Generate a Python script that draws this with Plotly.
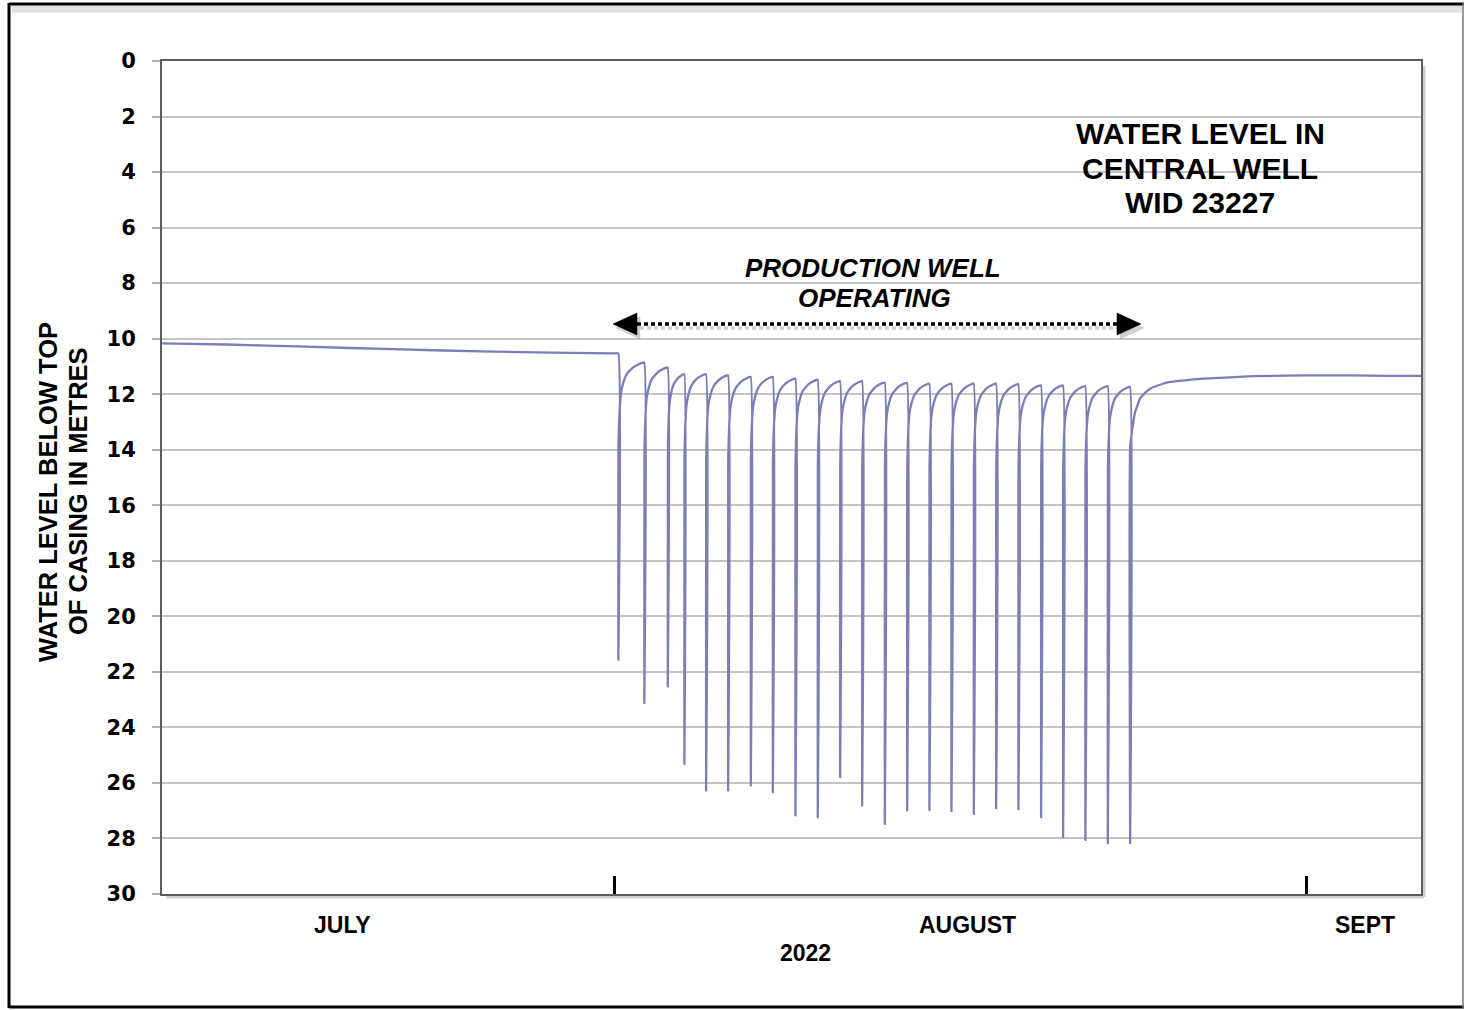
import plotly.graph_objects as go
from datetime import datetime, timedelta

# ---- water level record, metres below top of casing ----
# background record before the production well was switched on
pre_times = ["2022-07-11 18:40", "2022-07-14 16:00", "2022-07-18 06:00",
             "2022-07-22 02:40", "2022-07-26 14:00", "2022-07-31 23:00"]
pre_levels = [10.17, 10.21, 10.29, 10.38, 10.47, 10.53]

# start of each daily pumping event in the production well
pump_starts = ["2022-08-01 04:35", "2022-08-02 08:30", "2022-08-03 09:40",
               "2022-08-04 03:30", "2022-08-05 02:50", "2022-08-06 02:30",
               "2022-08-07 02:50", "2022-08-08 02:30", "2022-08-09 02:45",
               "2022-08-10 02:45", "2022-08-11 02:45", "2022-08-12 02:25",
               "2022-08-13 02:45", "2022-08-14 02:45", "2022-08-15 02:40",
               "2022-08-16 02:20", "2022-08-17 02:20", "2022-08-18 02:20",
               "2022-08-19 02:15", "2022-08-20 02:35", "2022-08-21 02:15",
               "2022-08-22 02:10", "2022-08-23 02:15", "2022-08-24 02:15"]
# level reached in the central well at the end of each event
drawdown_levels = [21.56, 23.12, 22.52, 25.31, 26.27, 26.27, 26.09, 26.33,
                   27.17, 27.23, 25.79, 26.81, 27.47, 26.99, 26.97, 27.01,
                   27.11, 26.91, 26.94, 27.23, 27.95, 28.05, 28.17, 28.17]
# level just before each event started
prepump_levels = [10.53, 10.86, 11.04, 11.28, 11.28, 11.32, 11.38, 11.38,
                  11.44, 11.48, 11.53, 11.53, 11.58, 11.59, 11.62, 11.62,
                  11.62, 11.62, 11.64, 11.68, 11.68, 11.71, 11.71, 11.74]

# recovery between events: share of the interval elapsed vs metres still to recover
recovery_share = [0.03, 0.06, 0.10, 0.18, 0.33, 0.56, 0.86]
recovery_residual = [2.20, 1.60, 1.13, 0.77, 0.41, 0.18, 0.03]
spike_return_residual = 3.0

# recovery after the last pumping event
post_times = ["2022-08-24 07:40", "2022-08-24 13:00", "2022-08-24 18:20",
              "2022-08-24 23:45", "2022-08-25 10:25", "2022-08-25 21:10",
              "2022-08-26 13:15", "2022-08-27 08:35", "2022-08-28 08:15",
              "2022-08-29 14:25", "2022-08-31 02:00", "2022-09-01 14:25",
              "2022-09-03 02:00", "2022-09-04 14:25", "2022-09-06 02:45"]
post_levels = [12.64, 12.16, 11.95, 11.80, 11.66, 11.56, 11.50, 11.44, 11.40,
               11.35, 11.33, 11.32, 11.32, 11.34, 11.34]

FMT = "%Y-%m-%d %H:%M"
times = [datetime.strptime(t, FMT) for t in pre_times]
levels = list(pre_levels)

starts = [datetime.strptime(t, FMT) for t in pump_starts]
for i, t0 in enumerate(starts):
    times += [t0, t0 + timedelta(minutes=6)]
    levels += [prepump_levels[i], drawdown_levels[i]]
    if i + 1 < len(starts):
        t1 = starts[i + 1]
        target = prepump_levels[i + 1]
        times.append(t0 + timedelta(minutes=12))
        levels.append(target + spike_return_residual)
        for s, r in zip(recovery_share, recovery_residual):
            times.append(t0 + (t1 - t0) * s)
            levels.append(target + r)
    else:
        times.append(t0 + timedelta(minutes=12))
        levels.append(post_levels[0] + 1.2)
        times += [datetime.strptime(t, FMT) for t in post_times]
        levels += post_levels

LINE_COLOR = "#7b7fb6"
TXT = "Liberation Sans"

fig = go.Figure()
fig.add_trace(go.Scatter(x=times, y=levels, mode="lines",
                         line=dict(color=LINE_COLOR, width=2.3, shape="spline", smoothing=0.3),
                         showlegend=False, hoverinfo="skip"))

fig.update_layout(
    width=1465, height=1010,
    margin=dict(l=162, r=44, t=61, b=116),
    paper_bgcolor="white", plot_bgcolor="white",
    xaxis=dict(type="date",
               range=["2022-07-11 18:32", "2022-09-06 02:45"],
               tickvals=["2022-08-01", "2022-09-01"],
               ticks="inside", ticklen=18, tickwidth=3, tickcolor="black",
               showticklabels=False, showgrid=False, zeroline=False,
               showline=True, mirror=True, linecolor="#5c5c5c", linewidth=2),
    yaxis=dict(range=[30, 0], tickmode="linear", tick0=0, dtick=2,
               ticks="outside", ticklen=8, tickwidth=1.5, tickcolor="#b0b0b0",
               ticklabelstandoff=12,
               tickfont=dict(family="DejaVu Sans", size=21, color="black", weight="bold"),
               showgrid=True, gridcolor="#c4c4c4", gridwidth=1.5, zeroline=False,
               showline=True, mirror=True, linecolor="#5c5c5c", linewidth=2),
)


def px_x(px):
    return (px - 162) / 1259


def px_y(py):
    return (894 - py) / 833


def label(text, x, y, size, italic=False, angle=0):
    inner = f"<b><i>{text}</i></b>" if italic else f"<b>{text}</b>"
    fig.add_annotation(text=inner, xref="paper", yref="paper",
                       x=px_x(x), y=px_y(y), xanchor="center", yanchor="middle",
                       showarrow=False, textangle=angle,
                       font=dict(family=TXT, size=size, color="black"))


# chart title block
label("WATER LEVEL IN", 1200, 133, 30)
label("CENTRAL WELL", 1200, 168, 30)
label("WID 23227", 1200, 202, 30)

# pumping period note
label("PRODUCTION WELL", 873, 268, 26, italic=True)
label("OPERATING", 874, 298, 26, italic=True)

# axis captions
label("WATER LEVEL BELOW TOP", 48, 492, 25.5, angle=-90)
label("OF CASING IN METRES", 78, 491, 25.5, angle=-90)
label("JULY", 342, 925, 23)
label("AUGUST", 968, 925, 23)
label("SEPT", 1365, 925, 23)
label("2022", 805, 953, 23)

# double-headed dotted arrow spanning the pumping period, with soft shadow
ay, half = 324, 11
left_tip, left_base, right_base, right_tip = 613, 637, 1117, 1141


def tri(tip, base, dy, dx, color):
    path = (f"M {px_x(tip + dx)} {px_y(ay + dy)} "
            f"L {px_x(base + dx)} {px_y(ay - half + dy)} "
            f"L {px_x(base + dx)} {px_y(ay + half + dy)} Z")
    fig.add_shape(type="path", path=path, xref="paper", yref="paper",
                  fillcolor=color, line=dict(color=color, width=0.5))


for dx, dy, col in [(3, 4, "rgba(120,120,120,0.35)"), (0, 0, "black")]:
    tri(left_tip, left_base, dy, dx, col)
    tri(right_tip, right_base, dy, dx, col)
    fig.add_shape(type="line", xref="paper", yref="paper",
                  x0=px_x(left_base + dx), x1=px_x(right_base + dx),
                  y0=px_y(ay + dy), y1=px_y(ay + dy),
                  line=dict(color=col, width=3.5, dash="4px,3px"))

# soft shadow along the plot frame
fig.add_shape(type="line", xref="paper", yref="paper", layer="below",
              x0=px_x(1424), x1=px_x(1424), y0=px_y(66), y1=px_y(897),
              line=dict(color="#d0d0d0", width=3))
fig.add_shape(type="line", xref="paper", yref="paper", layer="below",
              x0=px_x(166), x1=px_x(1424), y0=px_y(897), y1=px_y(897),
              line=dict(color="#d0d0d0", width=3))

# outer page border
fig.add_shape(type="line", xref="paper", yref="paper",
              x0=px_x(12), x1=px_x(1462), y0=px_y(9), y1=px_y(9),
              line=dict(color="#e2e2e2", width=7))
fig.add_shape(type="line", xref="paper", yref="paper",
              x0=px_x(9), x1=px_x(1464), y0=px_y(4), y1=px_y(4),
              line=dict(color="black", width=3))
fig.add_shape(type="line", xref="paper", yref="paper",
              x0=px_x(9), x1=px_x(9), y0=px_y(3), y1=px_y(1008),
              line=dict(color="black", width=3))
fig.add_shape(type="line", xref="paper", yref="paper",
              x0=px_x(9), x1=px_x(1464), y0=px_y(1007), y1=px_y(1007),
              line=dict(color="black", width=3))
fig.add_shape(type="line", xref="paper", yref="paper",
              x0=px_x(1463), x1=px_x(1463), y0=px_y(3), y1=px_y(1008),
              line=dict(color="#777777", width=1.5))

fig.write_html("out.html")
